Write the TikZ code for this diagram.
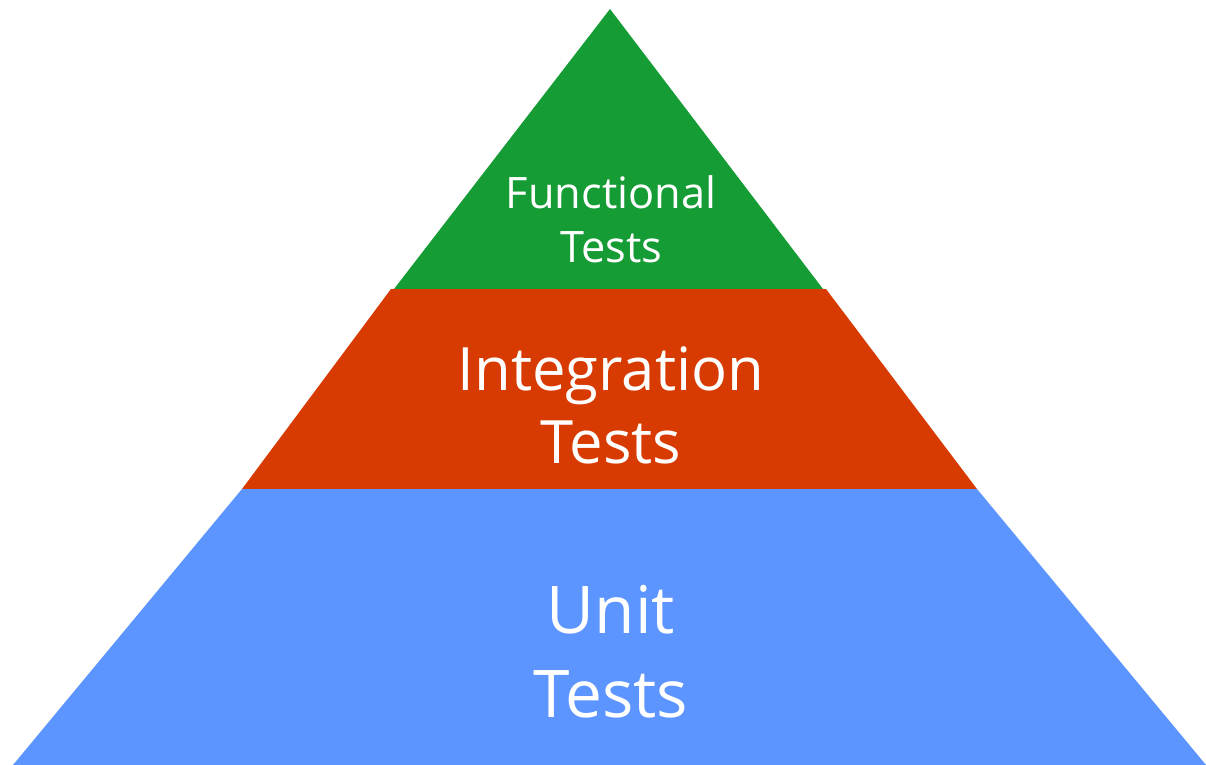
\documentclass[tikz,border=0pt]{standalone}
\usepackage{fontspec}
\setmainfont{Open Sans}
\definecolor{pgreen}{HTML}{159C35}
\definecolor{pred}{HTML}{D83B01}
\definecolor{pblue}{HTML}{5C95FF}
\begin{document}
\begin{tikzpicture}[x=1bp,y=-1bp,
  lbl/.style={text=white, anchor=base, inner sep=0pt}]
\useasboundingbox (0,0) rectangle (1206,765);
\fill[pgreen] (610,9) -- (823,289) -- (394,289) -- cycle;
\fill[pred] (391,289) -- (826,289) -- (977,489) -- (242,489) -- cycle;
\fill[pblue] (242,489) -- (977,489) -- (1206,765) -- (13,765) -- cycle;
\node[lbl, font=\fontsize{43.5}{43.5}\selectfont] (f1) at (611,208) {Functional};
\node[lbl, font=\fontsize{43.5}{43.5}\selectfont] (f2) at (611,262) {Tests};
\node[lbl, font=\fontsize{60}{60}\selectfont] (i1) at (611,390) {Integration};
\node[lbl, font=\fontsize{60}{60}\selectfont] (i2) at (611,463) {Tests};
\node[lbl, font=\fontsize{66}{66}\selectfont] (u1) at (611,633) {Unit};
\node[lbl, font=\fontsize{66}{66}\selectfont] (u2) at (611,717) {Tests};
\end{tikzpicture}
\end{document}
